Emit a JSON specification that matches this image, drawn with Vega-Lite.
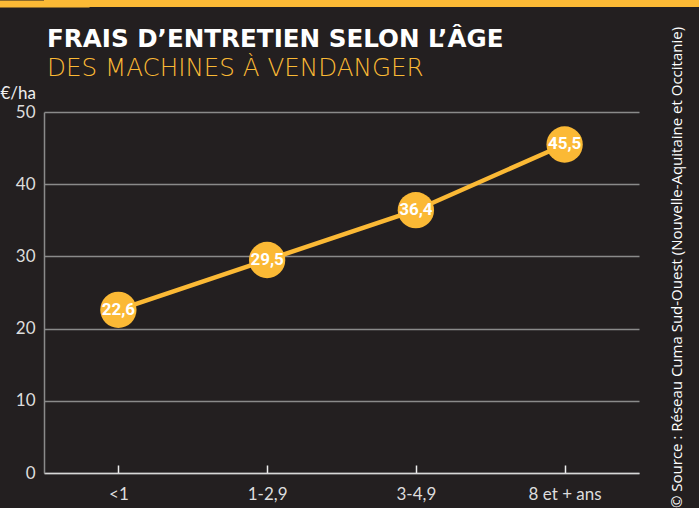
{
  "$schema": "https://vega.github.io/schema/vega-lite/v6.json",
  "background": "#231f20",
  "padding": 0,
  "spacing": 19,
  "align": "none",
  "center": false,
  "bounds": "full",
  "config": {
    "view": {"stroke": null},
    "locale": {"number": {"decimal": ",", "thousands": " ", "grouping": [3], "currency": ["", " €"]}}
  },
  "vconcat": [
    {
      "width": 655,
      "height": 7,
      "data": {"values": [{"band": "strip"}]},
      "mark": {"type": "rect", "color": "#fbb935"},
      "encoding": {
        "y": {
          "datum": 0,
          "type": "quantitative",
          "scale": {"domain": [0, 1]},
          "axis": {
            "labels": false,
            "ticks": false,
            "grid": false,
            "title": null,
            "domainColor": "#fbb935",
            "domainWidth": 90,
            "domainCap": "butt"
          }
        },
        "y2": {"datum": 1}
      }
    },
    {
      "width": 595,
      "height": 361,
      "title": {
        "text": "FRAIS D’ENTRETIEN SELON L’ÂGE",
        "subtitle": "DES MACHINES À VENDANGER",
        "anchor": "start",
        "frame": "group",
        "font": "DejaVu Sans",
        "fontSize": 24.6,
        "fontWeight": "bold",
        "color": "#ffffff",
        "subtitleFont": "DejaVu Sans",
        "subtitleFontSize": 24.6,
        "subtitleFontWeight": 200,
        "subtitleColor": "#fbb935",
        "subtitlePadding": 4,
        "offset": -55,
        "dx": 3
      },
      "data": {
        "values": [
          {"age": "<1", "frais": 22.6},
          {"age": "1-2,9", "frais": 29.5},
          {"age": "3-4,9", "frais": 36.4},
          {"age": "8 et + ans", "frais": 45.5}
        ]
      },
      "encoding": {
        "x": {
          "field": "age",
          "type": "ordinal",
          "sort": null,
          "scale": {"type": "point", "padding": 0.5},
          "axis": {
            "title": null,
            "labelAngle": 0,
            "labelFont": "Lato",
            "labelFontSize": 17,
            "labelColor": "#dddddd",
            "labelPadding": 21,
            "domainColor": "#d8d8d8",
            "domainWidth": 1.5,
            "tickColor": "#eeeeee",
            "tickWidth": 1.5,
            "tickSize": -8,
            "grid": false
          }
        }
      },
      "layer": [
        {
          "mark": {"type": "line", "color": "#fbb935", "strokeWidth": 4.5},
          "encoding": {
            "y": {
              "field": "frais",
              "type": "quantitative",
              "scale": {"domain": [0, 50]},
              "axis": {
                "orient": "left",
                "values": [0, 10, 20, 30, 40, 50],
                "title": "€/ha",
                "titleAngle": 0,
                "titleAlign": "left",
                "titleBaseline": "alphabetic",
                "titleX": -44,
                "titleY": -14,
                "titleFont": "Lato",
                "titleFontSize": 17,
                "titleFontWeight": "normal",
                "titleColor": "#eeeeee",
                "labelFont": "Lato",
                "labelFontSize": 17,
                "labelColor": "#dddddd",
                "labelPadding": 9,
                "ticks": false,
                "domainColor": "#8a8a8a",
                "domainWidth": 1.5,
                "gridColor": "#8a8a8a",
                "gridWidth": 1.5
              }
            }
          }
        },
        {
          "mark": {"type": "circle", "color": "#fbb935", "opacity": 1, "size": 1320},
          "encoding": {
            "y": {"field": "frais", "type": "quantitative", "axis": null}
          }
        },
        {
          "mark": {"type": "text", "color": "#ffffff", "font": "Roboto", "fontSize": 17, "fontWeight": "bold"},
          "encoding": {
            "y": {
              "field": "frais",
              "type": "quantitative",
              "axis": {
                "orient": "right",
                "labels": false,
                "ticks": false,
                "domain": false,
                "grid": false,
                "title": "© Source : Réseau Cuma Sud-Ouest (Nouvelle-Aquitaine et Occitanie)",
                "titleAngle": 270,
                "titleFont": "Open Sans",
                "titleFontSize": 15,
                "titleFontWeight": "normal",
                "titleColor": "#ffffff",
                "titlePadding": 45,
                "titleY": 155
              }
            },
            "text": {"field": "frais", "type": "quantitative", "format": ".1f"}
          }
        }
      ],
      "resolve": {"axis": {"y": "independent"}}
    }
  ]
}
